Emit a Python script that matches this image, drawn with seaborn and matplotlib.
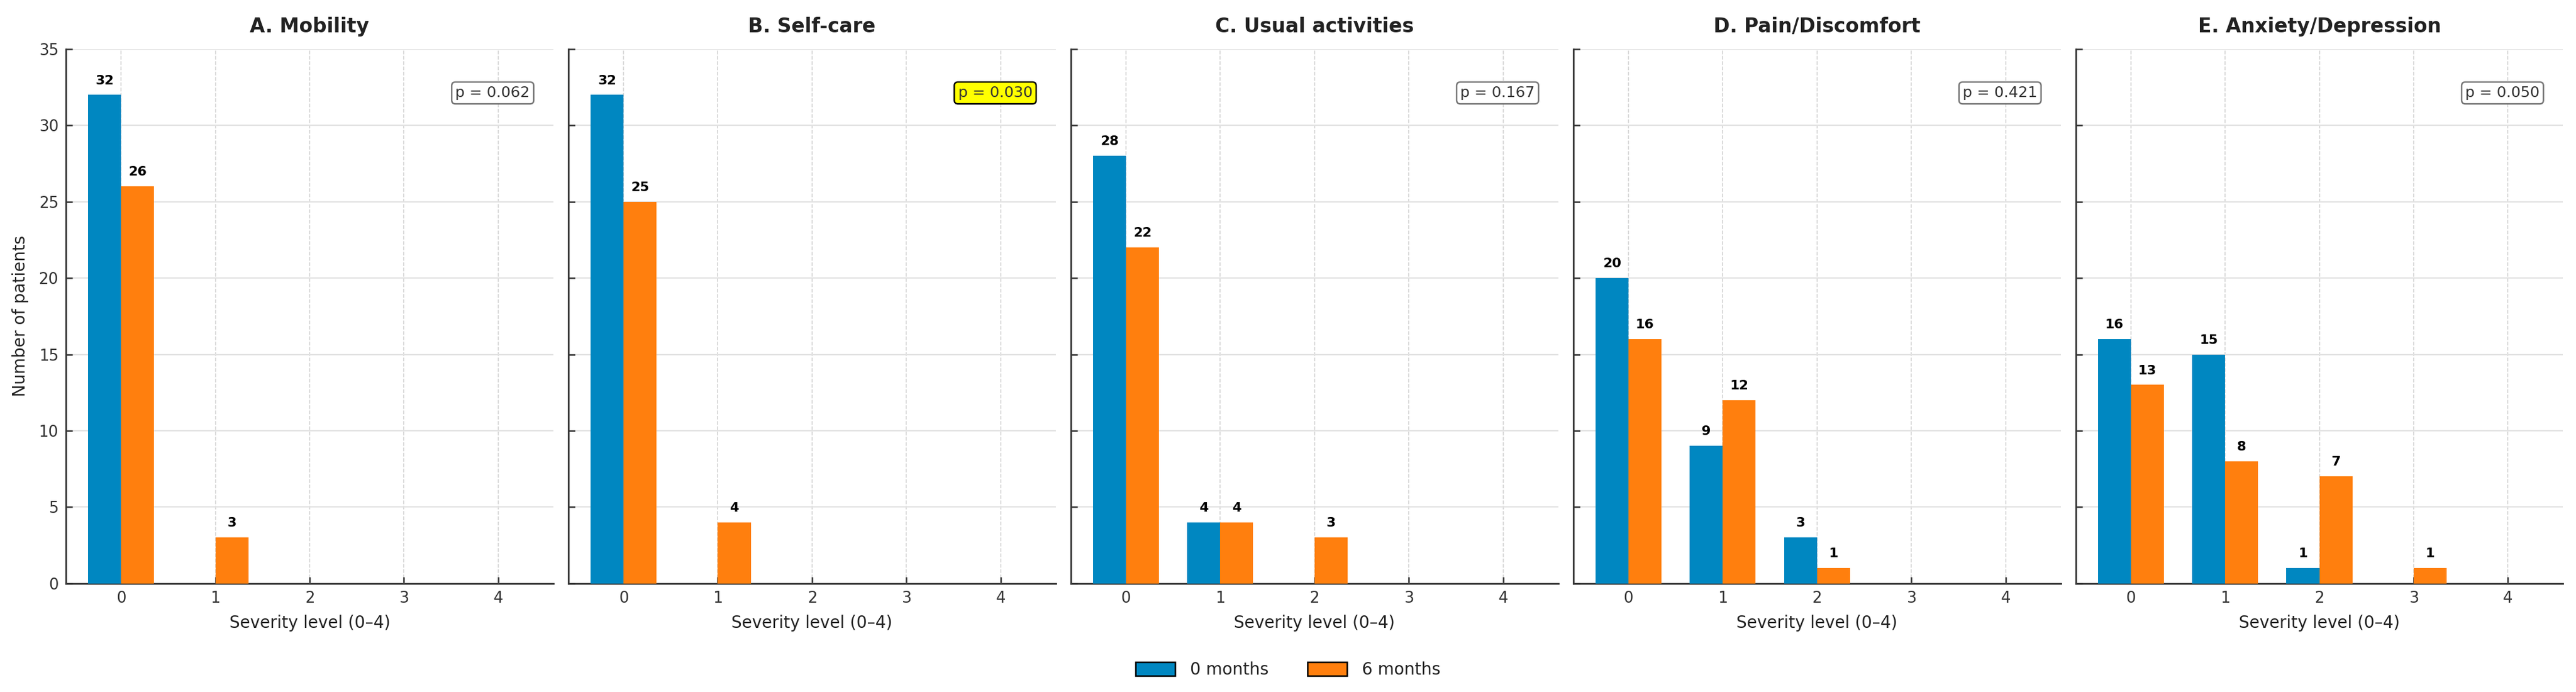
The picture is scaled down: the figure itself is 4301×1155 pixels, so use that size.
import numpy as np
import pandas as pd
import matplotlib
matplotlib.use("Agg")
import matplotlib.pyplot as plt
from matplotlib.patches import Patch
import seaborn as sns

# EQ-5D dimensions, counts of patients per severity level (0-4)
dimensions = ["A. Mobility", "B. Self-care", "C. Usual activities",
              "D. Pain/Discomfort", "E. Anxiety/Depression"]
levels = [0, 1, 2, 3, 4]
timepoints = ["0 months", "6 months"]

counts_0m = [
    [32, 0, 0, 0, 0],
    [32, 0, 0, 0, 0],
    [28, 4, 0, 0, 0],
    [20, 9, 3, 0, 0],
    [16, 15, 1, 0, 0],
]
counts_6m = [
    [26, 3, 0, 0, 0],
    [25, 4, 0, 0, 0],
    [22, 4, 3, 0, 0],
    [16, 12, 1, 0, 0],
    [13, 8, 7, 1, 0],
]
p_values = [0.062, 0.030, 0.167, 0.421, 0.050]

colors = {"0 months": "#0087C1", "6 months": "#FF7F0E"}

sns.set_style("whitegrid")
plt.rcParams["font.family"] = ["DejaVu Sans"]
plt.rcParams["text.color"] = "#222222"
plt.rcParams["axes.labelcolor"] = "#222222"
plt.rcParams["xtick.color"] = "#333333"
plt.rcParams["ytick.color"] = "#333333"

fig, axes = plt.subplots(1, 5, figsize=(21.505, 5.775), dpi=200, sharey=True)
fig.subplots_adjust(left=0.0256, right=0.995, bottom=0.157, top=0.929, wspace=0.0307)

for i, ax in enumerate(axes):
    rows = []
    for t, cnts in zip(timepoints, [counts_0m[i], counts_6m[i]]):
        for lv, c in zip(levels, cnts):
            rows.append({"level": lv, "time": t, "count": c})
    df = pd.DataFrame(rows)

    sns.barplot(data=df, x="level", y="count", hue="time", order=levels,
                hue_order=timepoints, palette=colors, width=0.7, saturation=1,
                linewidth=0, legend=False, ax=ax, zorder=3)

    # value labels, skip zero bars
    for cont in ax.containers:
        labels = [f"{int(b.get_height())}" if b.get_height() > 0 else ""
                  for b in cont]
        ax.bar_label(cont, labels=labels, padding=5, fontsize=8,
                     fontweight="bold", color="black")

    ax.set_xlim(-0.585, 4.585)
    ax.set_ylim(0, 35)
    ax.set_yticks(range(0, 36, 5))
    ax.set_title(dimensions[i], fontsize=11.8, fontweight="bold", pad=10,
                 color="#222222")
    ax.set_xlabel("Severity level (0–4)", fontsize=10, labelpad=5)
    if i == 0:
        ax.set_ylabel("Number of patients", fontsize=10, labelpad=6)
    else:
        ax.set_ylabel("")

    ax.tick_params(axis="both", direction="in", length=4, width=0.9,
                   labelsize=9.3, pad=4.5, left=True, bottom=True)
    ax.grid(axis="y", linestyle="-", color="#e2e2e2", linewidth=0.8, zorder=0)
    ax.grid(axis="x", linestyle="--", color="#d4d4d4", linewidth=0.6, zorder=0)

    for side in ["top", "right"]:
        ax.spines[side].set_visible(False)
    for side in ["left", "bottom"]:
        ax.spines[side].set_color("#333333")
        ax.spines[side].set_linewidth(1.0)

    p = p_values[i]
    if p < 0.05 or np.isclose(p, 0.030):
        box = dict(boxstyle="round,pad=0.25", facecolor="yellow",
                   edgecolor="black", linewidth=0.9)
    else:
        box = dict(boxstyle="round,pad=0.25", facecolor="white",
                   edgecolor="#777777", linewidth=0.9)
    ax.text(0.952, 0.918, f"p = {p:.3f}", transform=ax.transAxes,
            ha="right", va="center", fontsize=9, color="#333333", bbox=box,
            zorder=5)

handles = [Patch(facecolor=colors[t], edgecolor="black", linewidth=0.9, label=t)
           for t in timepoints]
fig.legend(handles=handles, loc="center", bbox_to_anchor=(0.5, 0.032), ncol=2,
           frameon=False, fontsize=10, handlelength=2.4, handleheight=0.9,
           columnspacing=2.3, handletextpad=0.9)

fig.savefig("out.png", dpi=200)
